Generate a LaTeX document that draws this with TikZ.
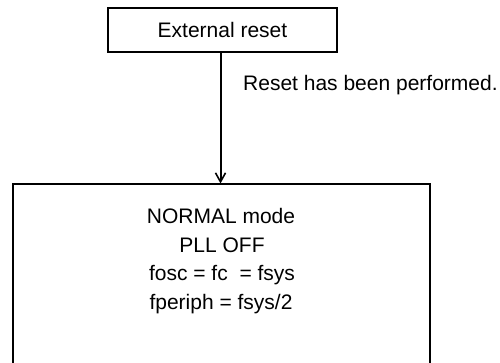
\documentclass[tikz,border=0pt]{standalone}
\usepackage{fontspec}
\setmainfont{Liberation Sans}
\usetikzlibrary{arrows.meta}
\begin{document}
\begin{tikzpicture}[x=1pt,y=-1pt,
  box/.style={draw,line width=2pt,rectangle,inner sep=0pt,outer sep=0pt},
  txt/.style={font=\fontsize{21}{29}\selectfont,inner sep=0pt},
  flow/.style={line width=2pt,-{Straight Barb[length=9pt,width=10pt,line width=1.6pt]}}]
  \useasboundingbox (0,0) rectangle (500,362);
  \clip (0,0) rectangle (500,362);
  % boxes
  \node[box,minimum width=229pt,minimum height=44pt] (reset) at (222.5,30) {};
  \node[box,minimum width=417.5pt,minimum height=220pt] (normal) at (221.25,293.5) {};
  % box texts
  \node[txt,anchor=base] (rtext) at (222.5,37) {External reset};
  \node[txt,anchor=base] (m1) at (221,223) {NORMAL mode};
  \node[txt,anchor=base] (m2) at (222,252) {PLL OFF};
  \node[txt,anchor=base] (m3) at (222,280) {fosc = fc \ = fsys};
  \node[txt,anchor=base] (m4) at (221,309) {fperiph = fsys/2};
  % transition
  \coordinate (from) at ([xshift=-2pt]reset.south);
  \draw[flow] (from) -- (from |- normal.north);
  \node[txt,anchor=base west] (cond) at (243,90) {Reset has been performed.};
\end{tikzpicture}
\end{document}
